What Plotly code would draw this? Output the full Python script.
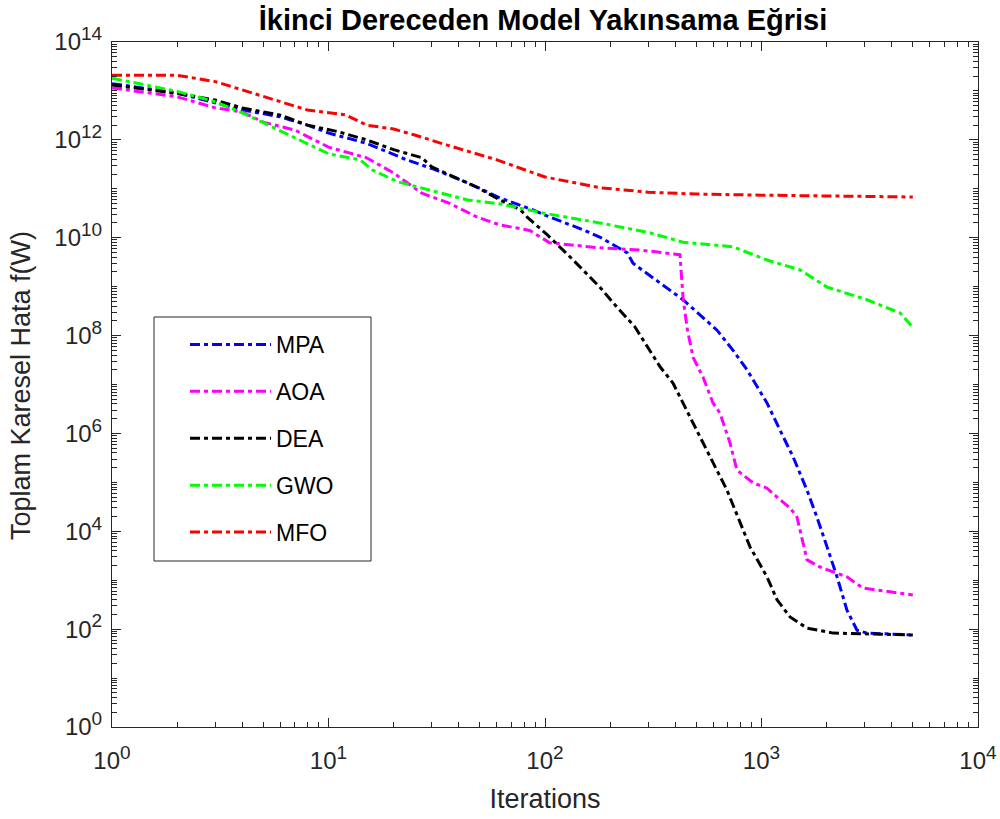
import plotly.graph_objects as go

# ---- data ----
mpa_iter = [1, 2, 4, 6, 8, 10, 15, 23, 30, 44, 62, 88, 100, 150, 180, 240, 255, 340, 434, 623,
            739, 857, 1060, 1217, 1400, 1623, 1803, 2008, 2233, 2481, 2761, 3070, 5000]
mpa_val = [1.41e13, 9.1e12, 4.1e12, 2.95e12, 2.0e12, 1.38e12, 8.5e11, 3.9e11, 2.6e11, 1.32e11,
           6.5e10, 3.7e10, 2.9e10, 1.45e10, 1.02e10, 4.9e9, 3.0e9, 1.17e9, 5.4e8, 1.29e8,
           5.0e7, 2.0e7, 4.2e6, 1.17e6, 3.3e5, 6.9e4, 1.95e4, 4.8e3, 1.17e3, 245, 95, 83, 76]

aoa_iter = [1, 2, 3, 4, 5, 7, 10, 15, 20, 27, 36, 49, 62, 85, 105, 179, 275, 407, 420, 435,
            455, 483, 537, 597, 643, 716, 770, 914, 1060, 1179, 1354, 1459, 1623, 1862, 2481,
            2942, 4050, 5000]
aoa_val = [1.15e13, 7.6e12, 4.5e12, 3.7e12, 2.3e12, 1.58e12, 7.1e11, 4.3e11, 2.1e11, 8.1e10,
           5.1e10, 2.6e10, 1.82e10, 1.41e10, 7.9e9, 6.2e9, 5.6e9, 4.5e9, 4.5e9, 5.4e8,
           1.29e8, 3.6e7, 1.41e7, 4.2e6, 2.6e6, 6.3e5, 1.78e5, 9.8e4, 7.6e4, 5.0e4,
           3.0e4, 1.95e4, 2.6e3, 1.86e3, 1.17e3, 690, 575, 500]

dea_iter = [1, 2, 3, 4, 6, 8, 11, 15, 20, 27, 30, 38, 49, 62, 77, 83, 102, 135, 179, 215,
            260, 340, 390, 520, 693, 885, 1060, 1179, 1354, 1623, 2138, 5000]
dea_val = [1.32e13, 8.9e12, 6.5e12, 4.5e12, 3.2e12, 2.0e12, 1.48e12, 1.0e12, 6.3e11, 4.3e11,
           2.8e11, 1.74e11, 1.05e11, 5.9e10, 3.7e10, 2.6e10, 1.17e10, 3.5e9, 9.8e8, 3.8e8,
           1.51e8, 2.3e7, 1.07e7, 8.5e5, 6.9e4, 4.8e3, 1.17e3, 400, 178, 105, 83, 76]

gwo_iter = [1, 2, 3, 4, 5, 7, 10, 14, 16, 21, 30, 44, 62, 98, 179, 305, 434, 739, 1060, 1507,
            2008, 3070, 4365, 5000]
gwo_val = [1.82e13, 9.8e12, 6.0e12, 3.55e12, 2.24e12, 1.10e12, 5.2e11, 3.9e11, 2.4e11, 1.38e11,
           9.3e10, 5.9e10, 4.9e10, 3.2e10, 2.0e10, 1.26e10, 8.1e9, 6.5e9, 3.5e9, 2.2e9,
           9.8e8, 5.4e8, 2.9e8, 1.48e8]

mfo_iter = [1, 2, 3, 4, 6, 8, 12, 15, 20, 25, 35, 60, 100, 180, 300, 500, 1000, 2000, 5000]
mfo_val = [2.09e13, 2.09e13, 1.55e13, 1.05e13, 5.9e12, 4.07e12, 3.24e12, 2.0e12, 1.66e12, 1.26e12,
           7.9e11, 3.9e11, 1.74e11, 1.05e11, 8.5e10, 7.8e10, 7.4e10, 7.1e10, 6.8e10]

series_names = ["MPA", "AOA", "DEA", "GWO", "MFO"]
series_colors = ["#0000FF", "#FF00FF", "#000000", "#00FF00", "#FF0000"]

x_tick_vals = [1, 10, 100, 1000, 10000]
x_tick_exp = ["0", "1", "2", "3", "4"]
y_tick_vals = [1, 1e2, 1e4, 1e6, 1e8, 1e10, 1e12, 1e14]
y_tick_exp = ["0", "2", "4", "6", "8", "10", "12", "14"]

title_text = "İkinci Dereceden Model Yakınsama Eğrisi"
x_title = "Iterations"
y_title = "Toplam Karesel Hata f(W)"


def pow_label(e):
    return "10<sup><span style='font-size:19px'>" + e + "</span></sup>"


# ---- figure ----
xs = [mpa_iter, aoa_iter, dea_iter, gwo_iter, mfo_iter]
ys = [mpa_val, aoa_val, dea_val, gwo_val, mfo_val]

fig = go.Figure()
for name, color, x, y in zip(series_names, series_colors, xs, ys):
    fig.add_trace(go.Scatter(
        x=x, y=y, mode="lines", name=name, legendgroup=name,
        line=dict(color=color, width=3, dash="10px,4px,4px,4px"),
    ))

minor_x = [m * 10 ** e for e in range(0, 4) for m in range(2, 10)]
minor_y = [m * 10 ** e for e in range(0, 14) for m in range(1, 10) if not (m == 1 and e % 2 == 0)]

axis_color = "#262626"
font_family = "Liberation Sans, Arial, sans-serif"

W, H = 1000, 819
L, R, T, B = 112, 22, 42, 92
pw, ph = W - L - R, H - T - B


def px_x(p):
    return (p - L) / pw


def px_y(p):
    return (H - B - p) / ph


fig.update_layout(
    width=W, height=H,
    margin=dict(l=L, r=R, t=T, b=B, autoexpand=False),
    paper_bgcolor="white", plot_bgcolor="white",
    font=dict(family=font_family, color=axis_color),
    title=dict(text="<b>" + title_text + "</b>", x=0.543, xanchor="center",
               y=0.9755, yanchor="middle", font=dict(size=29, color="#000000")),
    showlegend=True,
    legend=dict(x=px_x(185), y=px_y(323), xanchor="left", yanchor="top",
                bgcolor="rgba(0,0,0,0)", borderwidth=0,
                font=dict(size=23, color="#000000"), itemwidth=81,
                tracegroupgap=14),
    shapes=[dict(type="rect", xref="paper", yref="paper", layer="below",
                 x0=px_x(154), x1=px_x(371), y0=px_y(561), y1=px_y(317),
                 line=dict(color=axis_color, width=1), fillcolor="white")],
    annotations=[dict(text=y_title, xref="paper", yref="paper", x=px_x(21), y=px_y(386),
                      xanchor="center", yanchor="middle", textangle=-90, showarrow=False,
                      font=dict(size=27, color=axis_color))],
)

fig.update_xaxes(
    type="log", range=[0, 4], showgrid=False, zeroline=False,
    showline=True, linecolor=axis_color, linewidth=1, mirror="allticks",
    ticks="inside", ticklen=9, tickwidth=1, tickcolor=axis_color,
    tickmode="array", tickvals=x_tick_vals, ticktext=[pow_label(e) for e in x_tick_exp],
    tickfont=dict(size=24, color=axis_color), ticklabelstandoff=12,
    minor=dict(ticks="inside", ticklen=5, tickwidth=1, tickcolor=axis_color,
               tickmode="array", tickvals=minor_x, showgrid=False),
    title=dict(text=x_title, font=dict(size=27, color=axis_color), standoff=16),
)
fig.update_yaxes(
    type="log", range=[0, 14], showgrid=False, zeroline=False,
    showline=True, linecolor=axis_color, linewidth=1, mirror="allticks",
    ticks="inside", ticklen=9, tickwidth=1, tickcolor=axis_color,
    tickmode="array", tickvals=y_tick_vals, ticktext=[pow_label(e) for e in y_tick_exp],
    tickfont=dict(size=24, color=axis_color), ticklabelstandoff=4,
    minor=dict(ticks="inside", ticklen=5, tickwidth=1, tickcolor=axis_color,
               tickmode="array", tickvals=minor_y, showgrid=False),
)

fig.write_html("out.html", config={"displayModeBar": False},
               post_script="document.body.style.margin='0';")
